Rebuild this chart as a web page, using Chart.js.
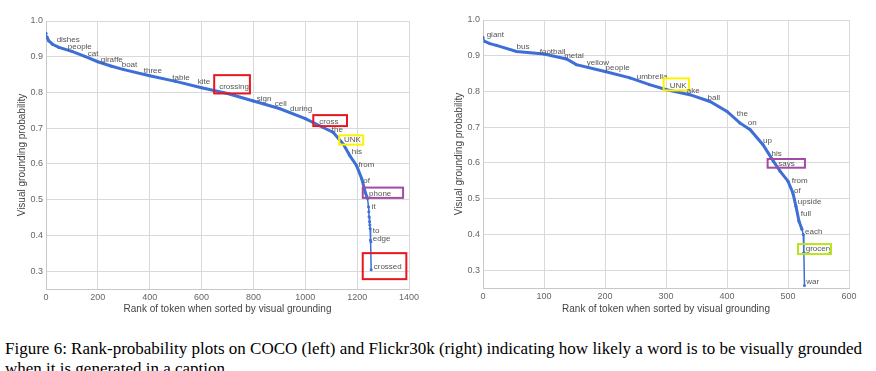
<!DOCTYPE html>
<html>
<head>
<meta charset="utf-8">
<script src="https://cdn.jsdelivr.net/npm/chart.js@4.4.0/dist/chart.umd.min.js"></script>
<style>
  html, body { margin: 0; padding: 0; background: #fff; width: 876px; height: 371px; overflow: hidden; }
  #coco { position: absolute; left: 0; top: 0; }
  #flickr { position: absolute; left: 430px; top: 0; }
  #caption {
    position: absolute; left: 5px; top: 338.7px;
    font-family: "Liberation Serif", "Times New Roman", serif;
    font-size: 16.5px; line-height: 20px; color: #000;
    white-space: nowrap; transform-origin: 0 0;
  }
</style>
</head>
<body>
<canvas id="coco" width="430" height="322"></canvas>
<canvas id="flickr" width="446" height="322"></canvas>
<div id="caption"><span id="cap1">Figure 6: Rank-probability plots on COCO (left) and Flickr30k (right) indicating how likely a word is to be visually grounded</span><br>when it is generated in a caption.</div>

<script>
// COCO (left): rank of token -> visual grounding probability
const cocoRanks = [0, 4, 10, 25, 50, 100, 150, 200, 250, 300, 400, 500, 600, 700, 800, 900, 1000, 1069, 1108, 1147, 1172, 1198, 1218, 1231, 1240, 1244, 1245, 1246, 1248, 1249, 1250, 1251, 1253, 1254];
const cocoProbs = [0.966, 0.955, 0.945, 0.935, 0.926, 0.915, 0.901, 0.886, 0.874, 0.864, 0.847, 0.831, 0.813, 0.797, 0.776, 0.755, 0.727, 0.702, 0.688, 0.655, 0.623, 0.595, 0.558, 0.521, 0.503, 0.480, 0.466, 0.452, 0.438, 0.429, 0.419, 0.387, 0.382, 0.304];
const cocoWords = ["dishes", "people", "cat", "giraffe", "boat", "three", "table", "kite", "crossing", "sign", "cell", "during", "cross", "the", "UNK", "his", "from", "of", "phone", "it", "to", "edge", "crossed"];
const cocoWordRanks = [41, 84, 161, 211, 292, 377, 487, 585, 668, 813, 882, 941, 1054, 1102, 1149, 1179, 1205, 1224, 1246, 1256, 1260, 1260, 1264];
const cocoWordProbs = [0.947, 0.927, 0.907, 0.892, 0.877, 0.862, 0.842, 0.829, 0.816, 0.783, 0.767, 0.753, 0.719, 0.696, 0.668, 0.634, 0.598, 0.554, 0.517, 0.480, 0.414, 0.390, 0.312];
const cocoXTicks = [0, 200, 400, 600, 800, 1000, 1200, 1400];

// Flickr30k (right)
const flickrRanks = [0, 3, 11, 22, 55, 100, 137, 153, 200, 241, 273, 301, 339, 372, 400, 421, 438, 459, 476, 487, 500, 508, 513, 518, 523, 525, 526, 527];
const flickrProbs = [0.952, 0.940, 0.934, 0.929, 0.912, 0.905, 0.891, 0.875, 0.856, 0.838, 0.819, 0.805, 0.791, 0.772, 0.744, 0.712, 0.693, 0.651, 0.605, 0.577, 0.549, 0.516, 0.479, 0.437, 0.414, 0.400, 0.349, 0.257];
const flickrWords = ["giant", "bus", "football", "metal", "yellow", "people", "umbrella", "UNK", "ake", "ball", "the", "on", "up", "his", "says", "from", "of", "upside", "full", "each", "grocery", "war"];
const flickrWordRanks = [6, 55, 93, 133, 170, 201, 252, 306, 334, 368, 416, 434, 459, 473, 484, 506, 510, 516, 521, 528, 529, 530];
const flickrWordProbs = [0.958, 0.925, 0.912, 0.900, 0.881, 0.866, 0.840, 0.817, 0.802, 0.781, 0.738, 0.712, 0.663, 0.625, 0.597, 0.549, 0.523, 0.490, 0.458, 0.407, 0.360, 0.266];
const flickrXTicks = [0, 100, 200, 300, 400, 500, 600];

const probTicks = [0.3, 0.4, 0.5, 0.6, 0.7, 0.8, 0.9, 1.0];

// highlight boxes drawn round some words (offsets from the label anchor, px)
const RED = "#e8161e", YELLOW = "#fff200", PURPLE = "#a34aa6", GREEN = "#b8e41c";
const cocoBoxes = {
  crossing: { color: RED, dx: -5, dy: -11.6, w: 35.7, h: 18.3 },
  cross: { color: RED, dx: -6, dy: -6.3, w: 33.7, h: 11 },
  UNK: { color: YELLOW, dx: -4.7, dy: -4.3, w: 24, h: 9.3 },
  phone: { color: PURPLE, dx: -6.3, dy: -6, w: 40.3, h: 10.3 },
  crossed: { color: RED, dx: -11, dy: -13.7, w: 43.6, h: 26 },
};
const flickrBoxes = {
  UNK: { color: YELLOW, dx: -6, dy: -7, w: 25.3, h: 12 },
  says: { color: PURPLE, dx: -10.6, dy: -5, w: 37.3, h: 8.7 },
  grocery: { color: GREEN, dx: -7.7, dy: -4.6, w: 33, h: 10 },
};

const FONT = '"Liberation Sans", Arial, sans-serif';
const BLUE = "#3d6fd6";

// draws the words next to the curve
const wordLabels = {
  id: "wordLabels",
  afterDatasetsDraw(chart, args, opts) {
    const { ctx } = chart;
    const x = chart.scales.x, y = chart.scales.y;
    ctx.save();
    ctx.font = "8px " + FONT;
    ctx.fillStyle = "#555";
    ctx.textBaseline = "middle";
    opts.words.forEach((w, i) => {
      const px = x.getPixelForValue(opts.ranks[i]);
      const py = y.getPixelForValue(opts.probs[i]);
      ctx.fillText(w, px, py);
      const b = opts.boxes[w];
      if (b) {
        ctx.strokeStyle = b.color;
        ctx.lineWidth = 2;
        ctx.strokeRect(px + b.dx, py + b.dy, b.w, b.h);
      }
    });
    ctx.restore();
  },
};

function makeChart(id, ranks, probs, words, wordRanks, wordProbs, boxes, xTicks, geo) {
  const pts = ranks.map((r, i) => ({ x: r, y: probs[i] }));
  return new Chart(document.getElementById(id), {
    type: "scatter",
    data: {
      datasets: [{
        data: pts,
        showLine: true,
        borderColor: BLUE,
        backgroundColor: BLUE,
        borderWidth: 3,
        pointRadius: 1.5,
        pointBorderWidth: 0,
        segment: {
          borderWidth: (c) => (c.p1.parsed.x - c.p0.parsed.x < 5 ? 1.5 : 3),
        },
      }],
    },
    options: {
      responsive: false,
      animation: false,
      layout: { padding: { left: 0, right: geo.padRight, top: geo.padTop, bottom: 0 } },
      plugins: {
        legend: { display: false },
        tooltip: { enabled: false },
        wordLabels: { words, ranks: wordRanks, probs: wordProbs, boxes },
      },
      scales: {
        x: {
          type: "linear",
          min: xTicks[0],
          max: xTicks[xTicks.length - 1],
          afterBuildTicks: (s) => { s.ticks = xTicks.map((v) => ({ value: v })); },
          afterFit: (s) => { s.height = geo.xHeight; },
          grid: { color: "#d9d9d9", lineWidth: 1, drawTicks: false },
          border: { color: "#c8c8c8" },
          ticks: {
            color: "#666",
            font: { family: FONT, size: 9 },
            padding: 3,
            maxRotation: 0,
            callback: (v) => String(v),
          },
          title: {
            display: true,
            text: "Rank of token when sorted by visual grounding",
            color: "#444",
            font: { family: FONT, size: 10 },
            padding: { top: 0, bottom: 7 },
          },
        },
        y: {
          min: 0.25,
          max: 1.0,
          afterBuildTicks: (s) => { s.ticks = probTicks.map((v) => ({ value: v })); },
          afterFit: (s) => { s.width = geo.yWidth; },
          grid: { color: "#d9d9d9", lineWidth: 1, drawTicks: false },
          border: { color: "#c8c8c8" },
          ticks: {
            color: "#666",
            font: { family: FONT, size: 9 },
            padding: 3,
            callback: (v) => Number(v).toFixed(1),
          },
          title: {
            display: true,
            text: "Visual grounding probability",
            color: "#444",
            font: { family: FONT, size: 10 },
            padding: { top: geo.yTitlePad, bottom: 0 },
          },
        },
      },
    },
    plugins: [wordLabels],
  });
}

makeChart("coco", cocoRanks, cocoProbs, cocoWords, cocoWordRanks, cocoWordProbs, cocoBoxes, cocoXTicks,
  { yWidth: 46, padRight: 21, padTop: 21, xHeight: 33, yTitlePad: 16 });
makeChart("flickr", flickrRanks, flickrProbs, flickrWords, flickrWordRanks, flickrWordProbs, flickrBoxes, flickrXTicks,
  { yWidth: 53, padRight: 27, padTop: 20, xHeight: 34, yTitlePad: 23 });

// stretch the caption line to the width it has in the figure
const cap1 = document.getElementById("cap1");
const sx = 857 / cap1.getBoundingClientRect().width;
document.getElementById("caption").style.transform = "scaleX(" + sx + ")";
</script>
</body>
</html>
